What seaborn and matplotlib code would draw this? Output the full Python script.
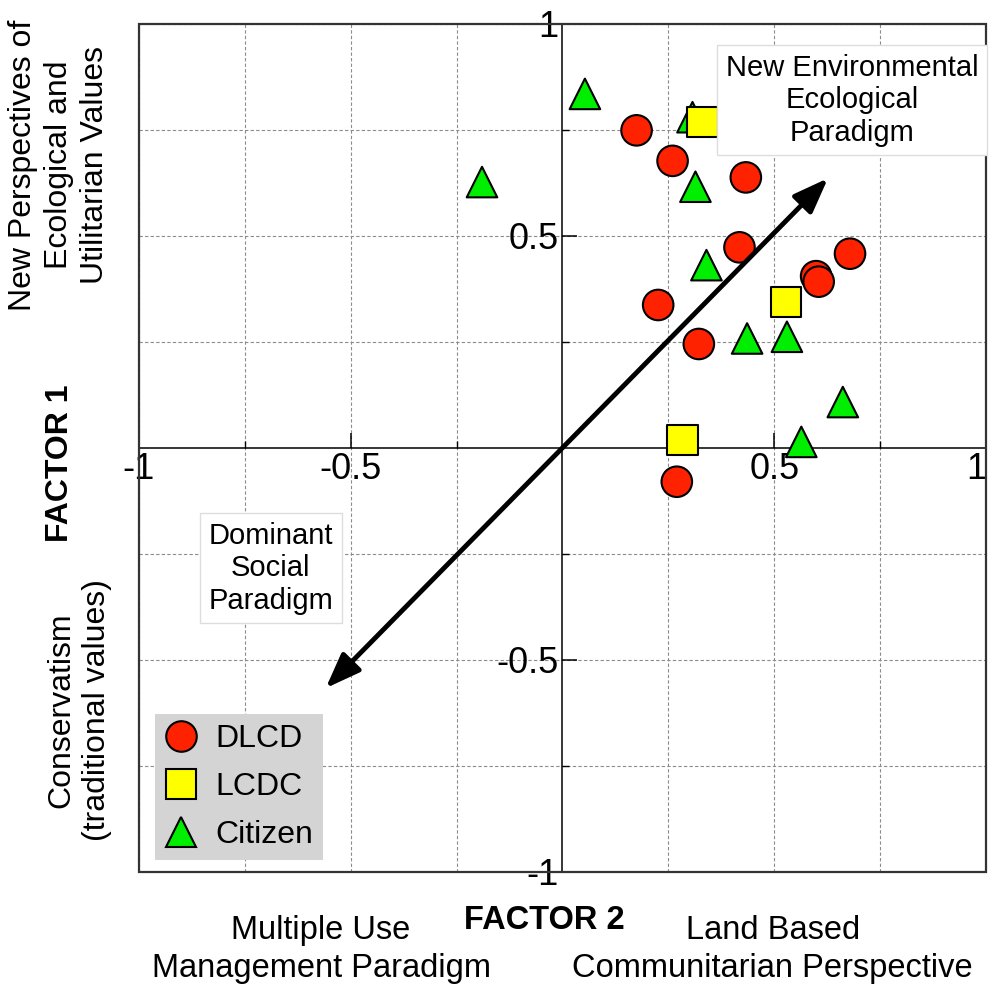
import matplotlib
matplotlib.use("Agg")
import matplotlib.pyplot as plt
import matplotlib.patches as mpatches
import seaborn as sns
import pandas as pd
from matplotlib.ticker import FixedLocator

# ---- data ----
citizen_x = [0.053, -0.19, 0.307, 0.314, 0.34, 0.436, 0.53, 0.662, 0.564]
citizen_y = [0.835, 0.627, 0.78, 0.616, 0.431, 0.258, 0.262, 0.108, 0.014]
dlcd_x = [0.175, 0.26, 0.433, 0.418, 0.679, 0.599, 0.605, 0.226, 0.322, 0.27]
dlcd_y = [0.749, 0.677, 0.638, 0.473, 0.458, 0.405, 0.392, 0.337, 0.245, -0.08]
lcdc_x = [0.331, 0.528, 0.283]
lcdc_y = [0.769, 0.344, 0.018]

groups = ["DLCD", "LCDC", "Citizen"]
group_colors = {"DLCD": "#ff2200", "LCDC": "#ffff00", "Citizen": "#00ee00"}
group_markers = {"DLCD": "o", "LCDC": "s", "Citizen": "^"}

tick_values = [-1, -0.5, 0.5, 1]
tick_labels = ["-1", "-0.5", "0.5", "1"]
minor_values = [-0.75, -0.25, 0.25, 0.75]

arrow_start = (-0.559, -0.567)
arrow_end = (0.627, 0.636)

df = pd.DataFrame({
    "x": citizen_x + dlcd_x + lcdc_x,
    "y": citizen_y + dlcd_y + lcdc_y,
    "group": ["Citizen"] * len(citizen_x) + ["DLCD"] * len(dlcd_x) + ["LCDC"] * len(lcdc_x),
})

sns.set_style("white")
plt.rcParams["font.family"] = ["Liberation Sans", "DejaVu Sans"]
plt.rcParams["text.color"] = "black"
plt.rcParams["axes.labelcolor"] = "black"
plt.rcParams["xtick.color"] = "black"
plt.rcParams["ytick.color"] = "black"

fig = plt.figure(figsize=(9.92, 9.90), dpi=100)
ax = fig.add_axes([0.1401, 0.1195, 0.8538, 0.8563])

sns.scatterplot(data=df, x="x", y="y", hue="group", style="group",
                hue_order=groups, style_order=groups,
                palette=group_colors, markers=group_markers,
                s=484, edgecolor="black", linewidth=1.5, ax=ax, zorder=3,
                legend=True)

ax.set_xlim(-1, 1)
ax.set_ylim(-1, 1)
ax.set_xlabel("")
ax.set_ylabel("")

# centre axes
for side in ["top", "right"]:
    ax.spines[side].set_visible(False)
ax.spines["left"].set_position(("data", 0))
ax.spines["bottom"].set_position(("data", 0))
for side in ["left", "bottom"]:
    ax.spines[side].set_linewidth(1.1)
    ax.spines[side].set_color("black")
    ax.spines[side].set_zorder(2)

# outer frame
frame = mpatches.Rectangle((0, 0), 1, 1, transform=ax.transAxes, fill=False,
                           edgecolor="#333333", linewidth=1.6, zorder=5, clip_on=False)
ax.add_patch(frame)

ax.xaxis.set_major_locator(FixedLocator(tick_values))
ax.yaxis.set_major_locator(FixedLocator(tick_values))
ax.xaxis.set_minor_locator(FixedLocator(minor_values))
ax.yaxis.set_minor_locator(FixedLocator(minor_values))
ax.set_xticklabels(tick_labels)
ax.set_yticklabels(tick_labels)
ax.tick_params(axis="both", which="major", direction="in", length=11, width=1.1,
               labelsize=26, color="black", labelcolor="black")
ax.tick_params(axis="x", which="major", pad=3)
ax.tick_params(axis="y", which="major", pad=3)
ax.tick_params(axis="both", which="minor", direction="in", length=5, width=1.0)
ax.xaxis.set_ticks_position("bottom")
ax.yaxis.set_ticks_position("left")
# keep the right-most x label inside the figure
ax.get_xticklabels()[-1].set_horizontalalignment("right")
ax.get_xticklabels()[-1].set_x(1)

ax.grid(True, which="both", color="#8c8c8c", linestyle=(0, (3, 2)), linewidth=0.8, zorder=0)
ax.set_axisbelow(True)

# arrow
ax.annotate("", xy=arrow_end, xytext=arrow_start,
            arrowprops=dict(arrowstyle="<|-|>,head_length=0.85,head_width=0.32",
                            mutation_scale=25, lw=3.5, color="black",
                            shrinkA=0, shrinkB=0),
            zorder=6)

# annotation boxes
box = dict(boxstyle="square,pad=0.3", facecolor="white", edgecolor="#dddddd", linewidth=1)
ax.text(0.684, 0.82, "New Environmental\nEcological\nParadigm", ha="center", va="center",
        multialignment="center", fontsize=21, bbox=box, zorder=7)
ax.text(-0.689, -0.284, "Dominant\nSocial\nParadigm", ha="center", va="center",
        multialignment="center", fontsize=21, bbox=box, zorder=7)

# legend
handles, labels = ax.get_legend_handles_labels()
new_h, new_l = [], []
for h, l in zip(handles, labels):
    if l in groups:
        try:
            h.set_markersize(22)
        except Exception:
            h.set_sizes([484])
        try:
            h.set_markeredgecolor("black")
            h.set_markeredgewidth(1.5)
        except Exception:
            pass
        new_h.append(h)
        new_l.append(l)
leg = ax.legend(new_h, new_l, loc="lower left", bbox_to_anchor=(0.019, 0.014),
                borderaxespad=0, frameon=True, fancybox=False, facecolor="#d4d4d4",
                edgecolor="none", framealpha=1, fontsize=23, handlelength=1.0,
                handletextpad=0.6, borderpad=0.3, labelspacing=0.57)
leg.set_zorder(8)

# outer labels
fig.text(0.0595, 0.8333, "New Perspectives of\nEcological and\nUtilitarian Values",
         rotation=90, ha="center", va="center", multialignment="center", fontsize=23,
         linespacing=1.25)
fig.text(0.060, 0.532, "FACTOR 1", rotation=90, ha="center", va="center",
         fontsize=23, fontweight="bold")
fig.text(0.0796, 0.2828, "Conservatism\n(traditional values)", rotation=90,
         ha="center", va="center", multialignment="center", fontsize=23,
         linespacing=1.25)
fig.text(0.549, 0.0707, "FACTOR 2", ha="center", va="center", fontsize=23.5,
         fontweight="bold")
fig.text(0.3236, 0.0606, "Multiple Use", ha="center", va="center", fontsize=23.5)
fig.text(0.3236, 0.0222, "Management Paradigm", ha="center", va="center", fontsize=23.5)
fig.text(0.779, 0.0606, "Land Based", ha="center", va="center", fontsize=23.5)
fig.text(0.779, 0.0222, "Communitarian Perspective", ha="center", va="center", fontsize=23.5)

fig.savefig("out.png", dpi=100)
